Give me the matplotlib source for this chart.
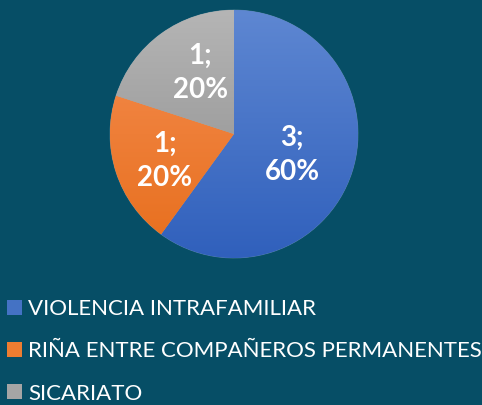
import numpy as np
import matplotlib
matplotlib.use("Agg")
import matplotlib.pyplot as plt
from matplotlib.patches import Patch
from matplotlib.colors import to_rgb

categories = ["VIOLENCIA INTRAFAMILIAR", "RIÑA ENTRE COMPAÑEROS PERMANENTES", "SICARIATO"]
values = [3, 1, 1]
top_colors = ["#5E87D2", "#F58E52", "#B5B5B5"]
bottom_colors = ["#3060BC", "#E76E1C", "#8A8A8A"]
legend_colors = ["#4472C4", "#ED7D31", "#A5A5A5"]

bg = "#064E66"
plt.rcParams['font.family'] = ['Lato', 'DejaVu Sans']

fig = plt.figure(figsize=(4.82, 4.05), dpi=100)
fig.patch.set_facecolor(bg)

W, H = 482, 405
cx, cy, r = 234, 134, 124
ax = fig.add_axes([(cx - r) / W, (H - cy - r) / H, 2 * r / W, 2 * r / H])
ax.set_facecolor(bg)
ax.axis('off')

wedges, _ = ax.pie(values, startangle=90, counterclock=False, radius=1,
                   colors=legend_colors,
                   wedgeprops=dict(edgecolor=(1, 1, 1, 0.25), linewidth=0.6))
ax.set_xlim(-1, 1)
ax.set_ylim(-1, 1)
ax.set_aspect('equal')

n = 256
t = np.linspace(0, 1, n)[:, None]
for w, tc, bc in zip(wedges, top_colors, bottom_colors):
    a = np.array(to_rgb(tc)); b = np.array(to_rgb(bc))
    grad = (a[None, None, :] * (1 - t[:, :, None]) + b[None, None, :] * t[:, :, None])
    grad = np.repeat(grad, 2, axis=1)
    im = ax.imshow(grad, extent=[-1, 1, -1, 1], origin='upper', aspect='auto', zorder=1.5)
    im.set_clip_path(w)

total = sum(values)
label_dist = [0.5, 0.6, 0.56]
label_shift = [-2.0, 3.0, -7.0]  # degrees
for w, v, d, s in zip(wedges, values, label_dist, label_shift):
    ang = np.deg2rad((w.theta1 + w.theta2) / 2 + s)
    ax.text(d * np.cos(ang), d * np.sin(ang), f"{v};\n{round(100 * v / total)}%",
            ha='center', va='center', color='white', fontsize=20, fontweight='bold',
            linespacing=1.4, zorder=3)

handles = [Patch(facecolor=c, edgecolor='none') for c in legend_colors]
leg = fig.legend(handles, categories, loc='upper left', bbox_to_anchor=(0.0, 0.278),
                 frameon=False, fontsize=16, labelcolor='white', handlelength=0.68,
                 handleheight=0.68, handletextpad=0.3, labelspacing=1.0,
                 borderaxespad=0.0, borderpad=0.3)

fig.savefig("out.png", dpi=100, facecolor=bg)
